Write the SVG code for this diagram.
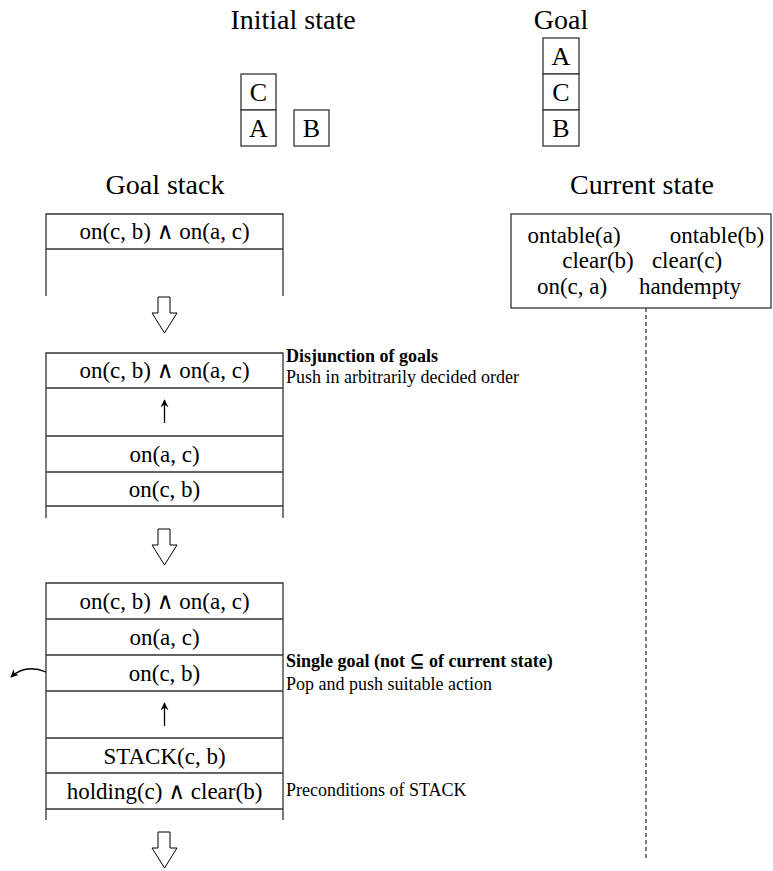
<svg xmlns="http://www.w3.org/2000/svg" width="773" height="871" viewBox="0 0 773 871" font-family="'Liberation Serif', 'DejaVu Serif', serif">
<defs>
<style>
text{font-family:'Liberation Serif','DejaVu Serif',serif;fill:#000}
.t{text-anchor:middle}
.title{font-size:28px}
.blk{font-size:26px}
.st{font-size:23px}
.an{font-size:18px}
.b{font-weight:bold}
.box{fill:#fff;stroke:#333;stroke-width:1.3}
.ln{fill:none;stroke:#333;stroke-width:1.3}
.big{fill:#fff;stroke:#000;stroke-width:1}
.thin{fill:none;stroke:#000;stroke-width:1.3}
</style>
<marker id="ah" viewBox="0 0 10 10" refX="9" refY="5" markerWidth="8" markerHeight="8" markerUnits="userSpaceOnUse" orient="auto">
<path d="M0,0 L10,5 L0,10 L3,5 Z" fill="#000"/>
</marker>
</defs>

<g id="initial-state">
<text class="t title" x="293" y="29">Initial state</text>
<rect class="box" x="241" y="74" width="35" height="36"/>
<text class="t blk" x="258.5" y="101">C</text>
<rect class="box" x="241" y="110" width="35" height="36"/>
<text class="t blk" x="258.5" y="137">A</text>
<rect class="box" x="294" y="110" width="35" height="36"/>
<text class="t blk" x="311.5" y="137">B</text>
</g>

<g id="goal">
<text class="t title" x="561" y="29">Goal</text>
<rect class="box" x="543" y="38" width="36" height="36"/>
<text class="t blk" x="561" y="65">A</text>
<rect class="box" x="543" y="74" width="36" height="36"/>
<text class="t blk" x="561" y="101">C</text>
<rect class="box" x="543" y="110" width="36" height="36"/>
<text class="t blk" x="561" y="137">B</text>
</g>

<g id="goal-stack-title">
<text class="t title" x="165" y="194">Goal stack</text>
</g>
<g id="current-state-title">
<text class="t title" x="642" y="194">Current state</text>
</g>

<g id="current-state">
<rect class="box" x="511" y="214" width="260" height="94"/>
<text class="t st" x="574" y="243">ontable(a)</text>
<text class="t st" x="717" y="243">ontable(b)</text>
<text class="t st" x="598" y="268">clear(b)</text>
<text class="t st" x="687" y="268">clear(c)</text>
<text class="t st" x="572" y="294">on(c, a)</text>
<text class="t st" x="690" y="294">handempty</text>
</g>

<g id="stack1">
<path class="ln" d="M46,296 V214 H283 V296 M46,249 H283"/>
<text class="t st" x="164.5" y="239">on(c, b) ∧ on(a, c)</text>
</g>

<g id="stack2">
<path class="ln" d="M46,518 V353 H283 V518 M46,388 H283 M46,436 H283 M46,472 H283 M46,506 H283"/>
<text class="t st" x="164.5" y="378">on(c, b) ∧ on(a, c)</text>
<text class="t st" x="164.5" y="462">on(a, c)</text>
<text class="t st" x="164.5" y="497">on(c, b)</text>
</g>
<g id="note-disjunction">
<text class="an b" x="286" y="362">Disjunction of goals</text>
<text class="an" x="286" y="383">Push in arbitrarily decided order</text>
</g>

<g id="stack3">
<path class="ln" d="M46,820 V583 H283 V820 M46,619 H283 M46,655 H283 M46,691 H283 M46,738 H283 M46,773 H283 M46,809 H283"/>
<text class="t st" x="164.5" y="609">on(c, b) ∧ on(a, c)</text>
<text class="t st" x="164.5" y="645">on(a, c)</text>
<text class="t st" x="164.5" y="681">on(c, b)</text>
<text class="t st" x="164.5" y="764">STACK(c, b)</text>
<text class="t st" x="164.5" y="799">holding(c) ∧ clear(b)</text>
</g>
<g id="note-single">
<text class="an b" x="286" y="667">Single goal (not ⊆ of current state)</text>
<text class="an" x="286" y="690">Pop and push suitable action</text>
</g>
<g id="note-preconditions">
<text class="an" x="286" y="796">Preconditions of STACK</text>
</g>

<g id="connectors">
<path class="big" d="M158,297 H170 V313 H177 L164.5,333 L152,313 H158 Z"/>
<path class="big" d="M158,529 H170 V545 H177 L164.5,565 L152,545 H158 Z"/>
<path class="big" d="M158,832 H170 V848 H177 L164.5,868 L152,848 H158 Z"/>
<path class="thin" d="M164.5,423 V400" marker-end="url(#ah)"/>
<path class="thin" d="M164.5,726 V703" marker-end="url(#ah)"/>
<path class="thin" d="M46,672 C34,667 22,667 11,677" marker-end="url(#ah)"/>
<path d="M646,308 V860" fill="none" stroke="#333" stroke-width="1.3" stroke-dasharray="4 3"/>
</g>
</svg>
